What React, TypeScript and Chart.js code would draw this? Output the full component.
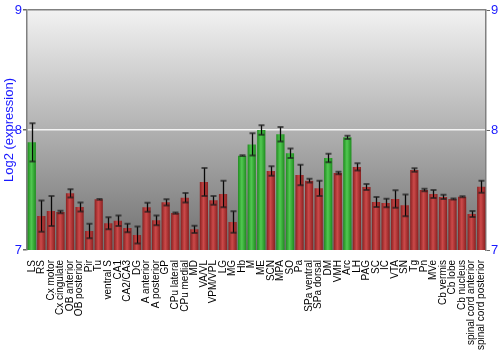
import React, { useEffect, useRef } from "react";
import { Chart, registerables } from "chart.js";
Chart.register(...registerables);

const categories = [
  "LS", "RS", "Cx motor", "Cx cingulate", "OB anterior", "OB posterior", "Pir", "Tu",
  "ventral S", "CA1", "CA2/CA3", "DG", "A anterior", "A posterior", "GP", "CPu lateral",
  "CPu medial", "MD", "VA/VL", "VPM/VPL", "LG", "MG", "Hb", "M", "ME", "SCN", "MPA", "SO",
  "Pa", "SPa ventral", "SPa dorsal", "DM", "VMH", "Arc", "LH", "PAG", "SC", "IC", "VTA",
  "SN", "Tg", "Pn", "MVe", "Cb vermis", "Cb lobe", "Cb nucleus", "spinal cord anterior",
  "spinal cord posterior",
];

const values = [
  7.897, 7.283, 7.325, 7.317, 7.472, 7.358, 7.158, 7.422,
  7.222, 7.244, 7.183, 7.125, 7.356, 7.247, 7.397, 7.308,
  7.436, 7.172, 7.567, 7.414, 7.467, 7.233, 7.786, 7.88, 8.0, 7.658, 7.964, 7.806,
  7.625, 7.578, 7.514, 7.767, 7.642, 7.939, 7.692, 7.525, 7.4, 7.392, 7.425,
  7.372, 7.667, 7.5, 7.467, 7.442, 7.425, 7.444, 7.3,
  7.528,
];

const errors = [
  0.16, 0.13, 0.125, 0.01, 0.035, 0.037, 0.06, 0.004,
  0.05, 0.043, 0.036, 0.07, 0.037, 0.04, 0.026, 0.005,
  0.04, 0.03, 0.117, 0.036, 0.11, 0.09, 0.003, 0.093, 0.04, 0.04, 0.06, 0.04,
  0.085, 0.015, 0.063, 0.036, 0.011, 0.014, 0.03, 0.024, 0.042, 0.036, 0.072,
  0.09, 0.014, 0.01, 0.033, 0.018, 0.005, 0.004, 0.025,
  0.05,
];

const highlighted = ["LS", "Hb", "M", "ME", "MPA", "SO", "DM", "Arc"];

const yTicks = [7, 8, 9];

const FONT = "'Liberation Sans', Arial, sans-serif";
const BLUE = "#1a1aff";

const bgPlugin = {
  id: "bgGradient",
  beforeDraw(chart: any) {
    const { ctx, chartArea } = chart;
    if (!chartArea) return;
    const g = ctx.createLinearGradient(0, chartArea.top, 0, chartArea.bottom);
    g.addColorStop(0, "#f2f2f2");
    g.addColorStop(1, "#707070");
    ctx.save();
    ctx.fillStyle = g;
    ctx.fillRect(chartArea.left, chartArea.top, chartArea.right - chartArea.left, chartArea.bottom - chartArea.top);
    ctx.restore();
  },
};

const errorPlugin = {
  id: "errorBars",
  afterDatasetsDraw(chart: any) {
    const { ctx } = chart;
    const xs = chart.scales.x;
    const ys = chart.scales.y;
    ctx.save();
    values.forEach((v, i) => {
      const e = errors[i];
      const x = Math.round(xs.getPixelForValue(i)) + 0.5;
      const y1 = ys.getPixelForValue(v + e);
      const y2 = ys.getPixelForValue(v - e);
      ctx.strokeStyle = "rgba(0,0,0,0.95)";
      ctx.lineWidth = 1.3;
      ctx.beginPath();
      ctx.moveTo(x, y1);
      ctx.lineTo(x, y2);
      ctx.stroke();
      ctx.strokeStyle = "rgba(30,30,30,0.7)";
      ctx.lineWidth = 2;
      ctx.beginPath();
      ctx.moveTo(x - 3, y1);
      ctx.lineTo(x + 3, y1);
      ctx.moveTo(x - 3, y2);
      ctx.lineTo(x + 3, y2);
      ctx.stroke();
    });
    ctx.restore();
  },
};

function barColor(ctx: any) {
  const chart = ctx.chart;
  const i = ctx.dataIndex;
  const green = highlighted.includes(categories[i]);
  const xs = chart.scales && chart.scales.x;
  const area = chart.chartArea;
  if (!xs || !area || i === undefined) return green ? "#3aaa3a" : "#b43535";
  const x = xs.getPixelForValue(i);
  const w = ((area.right - area.left) / categories.length) * 0.86;
  const g = chart.ctx.createLinearGradient(x - w / 2, 0, x + w / 2, 0);
  if (green) {
    g.addColorStop(0, "#1e8c1e");
    g.addColorStop(0.45, "#52c852");
    g.addColorStop(1, "#1e8c1e");
  } else {
    g.addColorStop(0, "#8a2020");
    g.addColorStop(0.45, "#cc4a4a");
    g.addColorStop(1, "#8a2020");
  }
  return g;
}

export default function App() {
  const ref = useRef<HTMLCanvasElement>(null);
  useEffect(() => {
    if (!ref.current) return;
    const chart = new Chart(ref.current, {
      type: "bar",
      data: {
        labels: categories,
        datasets: [
          {
            data: values,
            backgroundColor: barColor as any,
            borderWidth: 0,
            barPercentage: 0.86,
            categoryPercentage: 1,
          },
        ],
      },
      options: {
        animation: false,
        responsive: true,
        maintainAspectRatio: false,
        layout: { padding: { top: 10, left: 0, right: 0, bottom: 0 } },
        plugins: { legend: { display: false }, tooltip: { enabled: false } },
        scales: {
          x: {
            grid: { display: false },
            border: { display: false },
            ticks: {
              autoSkip: false,
              minRotation: 90,
              maxRotation: 90,
              color: "#000",
              padding: 2,
              font: { family: FONT, size: 10 },
            },
            afterFit: (s: any) => {
              s.height = 100;
            },
          },
          y: {
            min: 7,
            max: 9,
            afterBuildTicks: (s: any) => {
              s.ticks = yTicks.map((v) => ({ value: v }));
            },
            ticks: { color: BLUE, font: { family: FONT, size: 13 }, padding: 1 },
            title: {
              display: true,
              text: "Log2 (expression)",
              color: BLUE,
              font: { family: FONT, size: 13 },
              padding: { top: 2, bottom: 0 },
            },
            grid: {
              color: (c: any) =>
                c.tick && c.tick.value === 8 ? "#f4f4f4" : c.tick && c.tick.value === 9 ? "#808080" : "rgba(0,0,0,0)",
              tickColor: "#666",
              tickLength: 4,
              lineWidth: 1.5,
            },
            border: { display: true, color: "#808080", width: 1.5 },
            afterFit: (s: any) => {
              s.width = 27;
            },
          },
          y2: {
            position: "right",
            min: 7,
            max: 9,
            afterBuildTicks: (s: any) => {
              s.ticks = yTicks.map((v) => ({ value: v }));
            },
            ticks: { color: BLUE, font: { family: FONT, size: 13 }, padding: 1 },
            grid: { drawOnChartArea: false, tickColor: "#666", tickLength: 4 },
            border: { display: true, color: "#808080", width: 1.5 },
            afterFit: (s: any) => {
              s.width = 14;
            },
          },
        },
      },
      plugins: [bgPlugin, errorPlugin],
    });
    return () => chart.destroy();
  }, []);
  return (
    <div style={{ position: "fixed", left: 0, top: 0, width: 500, height: 350, background: "#fff" }}>
      <canvas ref={ref} />
    </div>
  );
}
